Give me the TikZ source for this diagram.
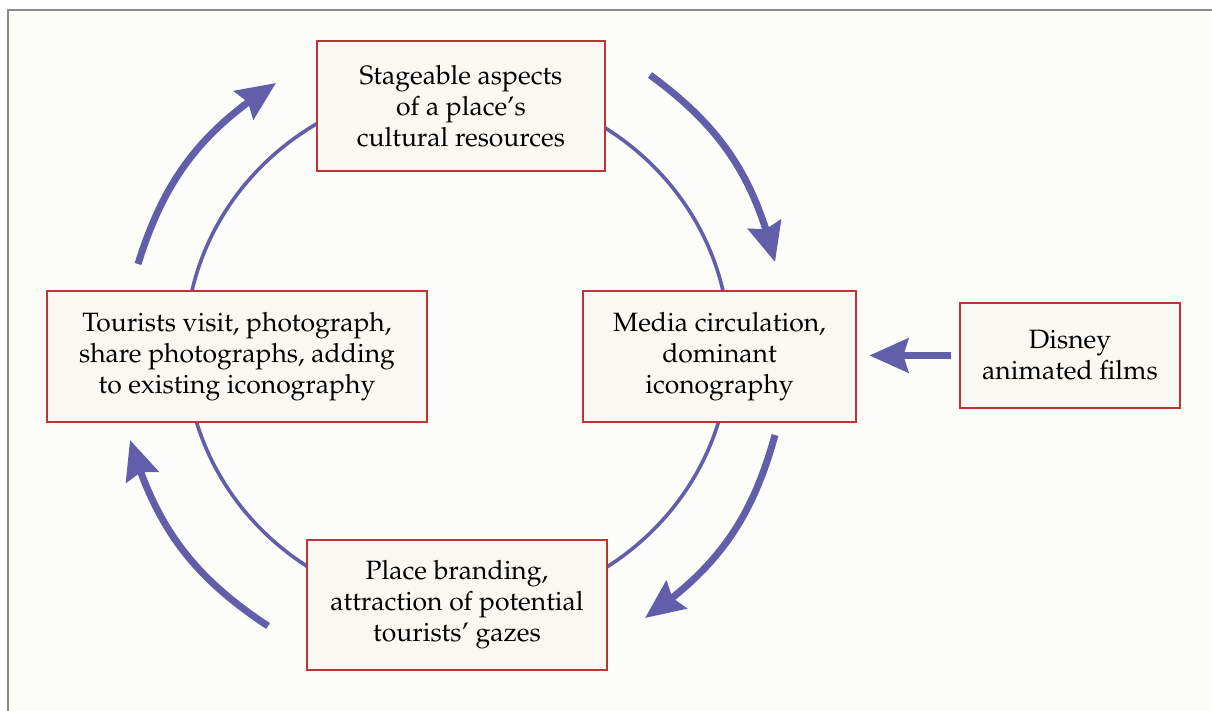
\documentclass[tikz,border=0pt]{standalone}
\usepackage[T1]{fontenc}
\renewcommand{\rmdefault}{ppl}
\usetikzlibrary{arrows.meta,bending,calc}
\definecolor{bgcream}{HTML}{FCFCF8}
\definecolor{boxfill}{HTML}{FAF8F2}
\definecolor{boxred}{HTML}{BC3436}
\definecolor{arrowblue}{HTML}{625EAA}
\definecolor{framegray}{HTML}{8A8A8A}
\begin{document}
\begin{tikzpicture}[x=1pt,y=1pt,
  box/.style={draw=boxred, line width=2.6pt, fill=boxfill, align=center,
    inner sep=0pt, font=\fontsize{26.5}{31}\selectfont},
  ring/.style={draw=arrowblue, line width=3.6pt},
  bigarrow/.style={draw=arrowblue, line width=7pt,
    -{Stealth[length=39pt,width=34pt,inset=5pt,flex]}}]
\useasboundingbox (0,0) rectangle (1212,-711);
\fill[white] (0,0) rectangle (1212,-711);
\fill[bgcream] (8,-10) rectangle (1212,-711);
\draw[framegray, line width=2pt] (8,-711) -- (8,-10) -- (1212,-10);

% ring behind the boxes
\coordinate (c) at (457.5,-348);
\draw[ring] (c) ellipse [x radius=272, y radius=262];

% boxes
\node[box, minimum width=288pt, minimum height=130pt] (top) at (461,-106)
  {Stageable aspects\\of a place's\\cultural resources};
\node[box, minimum width=380pt, minimum height=131pt] (left) at (237,-356.5)
  {Tourists visit, photograph,\\share photographs, adding\\to existing iconography};
\node[box, minimum width=273pt, minimum height=131pt] (media) at (719.5,-356.5)
  {Media circulation,\\dominant\\iconography};
\node[box, minimum width=300pt, minimum height=130pt] (bottom) at (457,-605)
  {Place branding,\\attraction of potential\\tourists' gazes};
\node[box, minimum width=220pt, minimum height=105pt] (disney) at (1070,-355.5)
  {Disney\\animated films};

% big cycle arrows
\coordinate (tlA) at (138,-264); \coordinate (tlB) at (276,-83);
\coordinate (trA) at (650,-75);  \coordinate (trB) at (775,-262);
\coordinate (brA) at (775,-435); \coordinate (brB) at (645,-618);
\coordinate (blA) at (268,-626); \coordinate (blB) at (130,-440);
\draw[bigarrow] (tlA) to[bend left=20] (tlB);
\draw[bigarrow] (trA) to[bend left=20] (trB);
\draw[bigarrow] (brA) to[bend left=20] (brB);
\draw[bigarrow] (blA) to[bend left=20] (blB);

% Disney arrow
\draw[bigarrow] ([xshift=-8pt]disney.west) -- ([xshift=12pt]disney.west -| media.east);
\end{tikzpicture}
\end{document}
